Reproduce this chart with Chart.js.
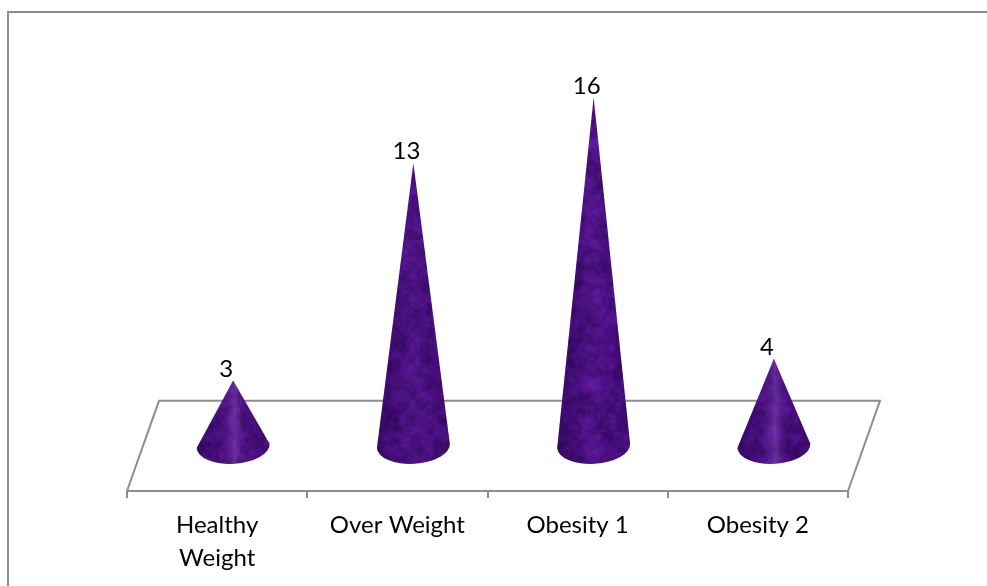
<!DOCTYPE html>
<html>
<head>
<meta charset="utf-8">
<title>Weight categories</title>
<script src="https://cdn.jsdelivr.net/npm/chart.js@4"></script>
<style>
  html, body { margin: 0; background: #fff; overflow: hidden; }
  #wrap { width: 987px; height: 586px; }
</style>
</head>
<body>
<div id="wrap"><canvas id="weightChart"></canvas></div>
<script>
const categories = [["Healthy", "Weight"], "Over Weight", "Obesity 1", "Obesity 2"];
const counts = [3, 13, 16, 4];

const lineGrey = "#8d8d8d";
const floorDepthValue = 2.07; // floor runs this far either side of zero
const floorShear = 32;
const labelFont = "Lato";

// one layer of blocky purple noise
function noiseLayer(cells, seedStart) {
  const c = document.createElement("canvas");
  c.width = c.height = cells;
  const g = c.getContext("2d");
  let seed = seedStart;
  const next = () => (seed = (seed * 16807) % 2147483647) / 2147483647;
  for (let y = 0; y < cells; y++) {
    for (let x = 0; x < cells; x++) {
      const n = next();
      g.fillStyle = `rgb(${Math.round(48 + n * 52)},${Math.round(6 + n * 18)},${Math.round(92 + n * 74)})`;
      g.fillRect(x, y, 1, 1);
    }
  }
  return c;
}

// mottled fabric for the cones: broad blotches with a finer grain on top
function makeTexture() {
  const big = document.createElement("canvas");
  big.width = big.height = 240;
  const g = big.getContext("2d");
  g.imageSmoothingEnabled = true;
  g.imageSmoothingQuality = "high";
  g.drawImage(noiseLayer(30, 4711), 0, 0, 240, 240);
  g.globalAlpha = 0.45;
  g.drawImage(noiseLayer(80, 90210), 0, 0, 240, 240);
  return big;
}

const texture = makeTexture();

function drawCone(ctx, cx, apexY, baseY, halfW) {
  const halfH = halfW * 0.49;
  ctx.save();
  ctx.beginPath();
  ctx.moveTo(cx, apexY);
  ctx.ellipse(cx, baseY, halfW, halfH, -0.06, 0, Math.PI);
  ctx.closePath();
  ctx.clip();

  ctx.fillStyle = ctx.createPattern(texture, "repeat");
  ctx.fillRect(cx - halfW - 2, apexY - 2, halfW * 2 + 4, baseY - apexY + halfH + 4);

  // short cones catch a visible streak of light down the middle
  const glow = baseY - apexY < 120 ? 0.3 : 0.04;
  const shade = ctx.createLinearGradient(cx - halfW, 0, cx + halfW, 0);
  shade.addColorStop(0, "rgba(30,0,60,0.4)");
  shade.addColorStop(0.3, "rgba(30,0,60,0.1)");
  shade.addColorStop(0.52, `rgba(170,110,220,${glow})`);
  shade.addColorStop(0.72, "rgba(30,0,60,0.06)");
  shade.addColorStop(1, "rgba(30,0,60,0.22)");
  ctx.fillStyle = shade;
  ctx.fillRect(cx - halfW - 2, apexY - 2, halfW * 2 + 4, baseY - apexY + halfH + 4);
  ctx.restore();
}

const framePlugin = {
  id: "frame",
  beforeDraw(chart) {
    const { ctx, width, height } = chart;
    ctx.save();
    ctx.strokeStyle = lineGrey;
    ctx.lineWidth = 2;
    ctx.beginPath();
    ctx.moveTo(8, height);
    ctx.lineTo(8, 12);
    ctx.lineTo(width, 12);
    ctx.stroke();
    ctx.restore();
  }
};

const floorPlugin = {
  id: "floor",
  beforeDatasetsDraw(chart) {
    const { ctx, chartArea, scales } = chart;
    const backY = scales.y.getPixelForValue(floorDepthValue);
    ctx.save();
    ctx.strokeStyle = lineGrey;
    ctx.lineWidth = 2;
    ctx.beginPath();
    ctx.moveTo(chartArea.left, chartArea.bottom);
    ctx.lineTo(chartArea.left + floorShear, backY);
    ctx.lineTo(chartArea.right + floorShear, backY);
    ctx.lineTo(chartArea.right, chartArea.bottom);
    ctx.stroke();
    ctx.restore();
  }
};

const conePlugin = {
  id: "cones",
  afterDatasetsDraw(chart) {
    const { ctx } = chart;
    const meta = chart.getDatasetMeta(0);
    meta.data.forEach((bar, i) => {
      const cx = bar.x + floorShear / 2;
      drawCone(ctx, cx, bar.y, bar.base, bar.width / 2);
      ctx.save();
      ctx.fillStyle = "#000";
      ctx.font = `24px ${labelFont}`;
      ctx.textAlign = "center";
      ctx.textBaseline = "alphabetic";
      ctx.fillText(String(counts[i]), cx - 7, bar.y - 4);
      ctx.restore();
    });
  }
};

new Chart(document.getElementById("weightChart"), {
  type: "bar",
  data: {
    labels: categories,
    datasets: [{
      data: counts,
      backgroundColor: "rgba(0,0,0,0)",
      categoryPercentage: 1,
      barPercentage: 0.405
    }]
  },
  options: {
    responsive: true,
    maintainAspectRatio: false,
    animation: false,
    layout: { padding: { left: 127, right: 139, top: 10.5, bottom: 0 } },
    plugins: { legend: { display: false }, title: { display: false }, tooltip: { enabled: false } },
    scales: {
      x: {
        afterFit(scale) { scale.height = 95; },
        border: { display: true, color: lineGrey, width: 2 },
        grid: { drawOnChartArea: false, drawTicks: true, tickLength: 7, color: lineGrey, lineWidth: 2 },
        ticks: {
          color: "#000",
          font: { family: labelFont, size: 24, lineHeight: 1.375 },
          maxRotation: 0,
          autoSkip: false,
          padding: 11
        }
      },
      y: { display: false, min: -floorDepthValue, max: 20 }
    }
  },
  plugins: [framePlugin, floorPlugin, conePlugin]
});
</script>
</body>
</html>
